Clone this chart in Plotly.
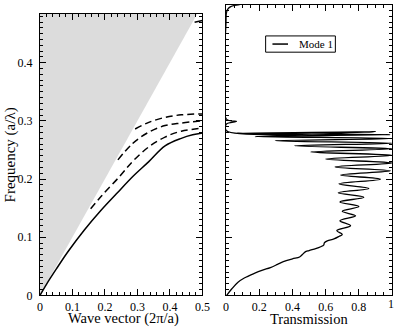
import plotly.graph_objects as go

# ---- left panel: band structure ----
light_k = [0, 0.5, 0]
light_f = [0, 0.5, 0.5]

mode1_k = [0, 0.02, 0.05, 0.086, 0.136, 0.186, 0.236, 0.285, 0.335, 0.385, 0.435, 0.47, 0.5]
mode1_f = [0, 0.019, 0.045, 0.075, 0.112, 0.145, 0.175, 0.204, 0.230, 0.257, 0.270, 0.276, 0.279]

band2_k = [0.156, 0.19, 0.246, 0.285, 0.335, 0.385, 0.435, 0.5]
band2_f = [0.1488, 0.1712, 0.2049, 0.2301, 0.2554, 0.2722, 0.2823, 0.2874]

band3_k = [0.24, 0.285, 0.335, 0.385, 0.435, 0.5]
band3_f = [0.233, 0.261, 0.2806, 0.2919, 0.2963, 0.3003]

band4_k = [0.293, 0.335, 0.385, 0.435, 0.5]
band4_f = [0.286, 0.2975, 0.306, 0.3104, 0.312]

band5_k = [0.476, 0.488, 0.5]
band5_f = [0.4695, 0.4715, 0.4725]

# ---- right panel: transmission of mode 1 ----
trans_f = [0, 0.0113, 0.0225, 0.0298, 0.0377, 0.0433, 0.0478, 0.0533, 0.0579, 0.0627,
           0.0660, 0.0702, 0.0744, 0.0770, 0.0803, 0.0836, 0.0870, 0.0904, 0.0938, 0.0971,
           0.1013, 0.1047, 0.1114, 0.1199, 0.1283, 0.1367, 0.1446, 0.1527, 0.1606, 0.1687,
           0.1763, 0.1838, 0.1918, 0.1998, 0.2069, 0.2141, 0.2209, 0.2276, 0.2343, 0.2408,
           0.2466, 0.2520, 0.2571, 0.2616, 0.2658, 0.2697, 0.2731, 0.2764, 0.2789, 0.2815,
           0.2830, 0.2945, 0.2992, 0.3032, 0.47, 0.4855, 0.491, 0.4956, 0.4985, 0.5]
trans_t = [0.004, 0.035, 0.072, 0.11, 0.17, 0.22, 0.267, 0.31, 0.345, 0.40,
           0.443, 0.46, 0.475, 0.50, 0.54, 0.57, 0.589, 0.592, 0.61, 0.65,
           0.68, 0.70, 0.667, 0.75, 0.686, 0.78, 0.70, 0.80, 0.686, 0.83,
           0.676, 0.86, 0.68, 0.93, 0.69, 0.99, 0.657, 1.0, 0.60, 1.0,
           0.51, 1.0, 0.413, 1.0, 0.296, 0.998, 0.175, 0.99, 0.065, 0.90,
           0.003, 0.002, 0.063, 0.002, 0.0, 0.002, 0.008, 0.023, 0.05, 0.082]

k_ticks = [0, 0.1, 0.2, 0.3, 0.4, 0.5]
f_ticks = [0, 0.1, 0.2, 0.3, 0.4, 0.5]
t_ticks = [0, 0.2, 0.4, 0.6, 0.8, 1]

FONT = "Liberation Serif"
W, H = 403, 333


def px_x(p):
    return p / W


def px_y(p):
    return 1 - p / H


fig = go.Figure()

fig.add_trace(go.Scatter(x=light_k, y=light_f, fill="toself", mode="none",
                         fillcolor="rgb(220,220,220)", xaxis="x", yaxis="y", hoverinfo="skip"))
fig.add_trace(go.Scatter(x=mode1_k, y=mode1_f, mode="lines",
                         line=dict(color="black", width=1.5, shape="spline"), xaxis="x", yaxis="y"))
for kk, ff in [(band2_k, band2_f), (band3_k, band3_f), (band4_k, band4_f)]:
    fig.add_trace(go.Scatter(x=kk, y=ff, mode="lines",
                             line=dict(color="black", width=1.5, dash="7px,4px", shape="spline"),
                             xaxis="x", yaxis="y"))
fig.add_trace(go.Scatter(x=band5_k, y=band5_f, mode="lines", line=dict(color="black", width=1.5),
                         xaxis="x", yaxis="y"))

fig.add_trace(go.Scatter(x=trans_t, y=trans_f, mode="lines",
                         line=dict(color="black", width=1.3, shape="spline", smoothing=1),
                         xaxis="x2", yaxis="y2"))


def axis(ticks, minor_dtick, labels=None, **kw):
    d = dict(showline=True, linecolor="black", linewidth=1, mirror="allticks",
             ticks="inside", ticklen=6, tickcolor="black", tickwidth=1,
             tickmode="array", tickvals=ticks,
             ticktext=labels if labels is not None else [f"{v:g}" for v in ticks],
             showgrid=False, zeroline=False,
             tickfont=dict(family=FONT, size=12, color="black"),
             minor=dict(ticks="inside", ticklen=3, tickmode="linear", tick0=0, dtick=minor_dtick,
                        tickcolor="black", tickwidth=1, showgrid=False))
    d.update(kw)
    return d


bottom = px_y(301.7)
fig.update_layout(
    width=W, height=H,
    margin=dict(l=0, r=0, t=0, b=0),
    paper_bgcolor="white", plot_bgcolor="white",
    showlegend=False,
    font=dict(family=FONT, color="black"),
    xaxis=axis(k_ticks, 0.02, domain=[px_x(38), px_x(205)], range=[0, 0.5], ticklabelstandoff=0),
    yaxis=axis(f_ticks, 0.01, domain=[bottom, px_y(14)], range=[0, 0.4843], ticklabelstandoff=4),
    xaxis2=axis(t_ticks, 0.05, labels=["0", "0.2", "0.4", "0.6", "0.8", ""],
                domain=[px_x(229.3), px_x(400)], range=[0, 1], anchor="y2", ticklabelstandoff=0),
    yaxis2=axis(f_ticks, 0.01, domain=[bottom, px_y(5)], range=[0, 0.4995], anchor="x2",
                showticklabels=False),
)

# 0.5 label sits above the cut-off top of the left frame
fig.add_annotation(x=px_x(38), xref="paper", xanchor="right", xshift=-4, y=0.5, yref="y",
                   yanchor="middle", text="0.5", showarrow=False,
                   font=dict(family=FONT, size=12, color="black"))
# last transmission tick label at the right edge of the figure
fig.add_annotation(x=px_x(403), xref="paper", y=px_y(311), yref="paper", xanchor="right",
                   yanchor="middle", text="1", showarrow=False, borderpad=0,
                   font=dict(family=FONT, size=12, color="black"))

# axis titles
fig.add_annotation(x=px_x(124), y=px_y(325.5), xref="paper", yref="paper", text="Wave vector (2π/a)",
                   showarrow=False, xanchor="center", yanchor="middle", borderpad=0,
                   font=dict(family=FONT, size=14.5, color="black"))
fig.add_annotation(x=px_x(315), y=px_y(325.5), xref="paper", yref="paper", text="Transmission",
                   showarrow=False, xanchor="center", yanchor="middle", borderpad=0,
                   font=dict(family=FONT, size=14.5, color="black"))
fig.add_annotation(x=px_x(8), y=px_y(158), xref="paper", yref="paper", text="Frequency (a/λ)",
                   showarrow=False, textangle=-90, xanchor="center", yanchor="middle",
                   font=dict(family=FONT, size=15, color="black"))

# legend box
fig.add_shape(type="rect", xref="paper", yref="paper", x0=px_x(270), x1=px_x(341.7),
              y0=px_y(53.3), y1=px_y(36.7), line=dict(color="black", width=1), fillcolor="white")
fig.add_shape(type="line", xref="paper", yref="paper", x0=px_x(277), x1=px_x(293),
              y0=px_y(45), y1=px_y(45), line=dict(color="black", width=1.5))
fig.add_annotation(x=px_x(302), y=px_y(45), xref="paper", yref="paper", xanchor="left",
                   yanchor="middle", text="Mode 1", showarrow=False,
                   font=dict(family=FONT, size=11, color="black"))

# the page body has a default 8px margin; drop it so the figure fills the window exactly
page_fix = ("document.documentElement.style.margin='0';"
            "document.documentElement.style.overflow='hidden';"
            "document.body.style.margin='0';"
            "document.body.style.overflow='hidden';")
fig.write_html("out.html", post_script=page_fix, config={"displayModeBar": False})
